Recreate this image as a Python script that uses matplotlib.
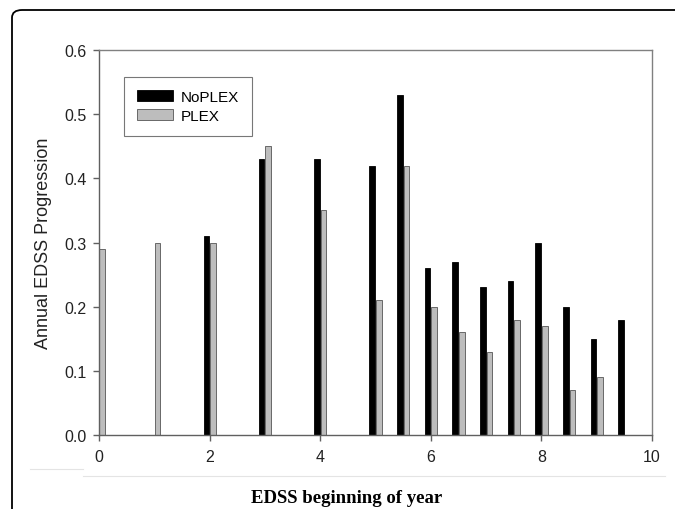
import matplotlib
matplotlib.use("Agg")
import matplotlib.pyplot as plt
from matplotlib.patches import FancyBboxPatch
from matplotlib.lines import Line2D

# data
edss = [0, 1, 2, 3, 4, 5, 5.5, 6, 6.5, 7, 7.5, 8, 8.5, 9, 9.5]
noplex = [None, None, 0.31, 0.43, 0.43, 0.42, 0.53, 0.26, 0.27, 0.23, 0.24, 0.30, 0.20, 0.15, 0.18]
plex = [0.29, 0.30, 0.30, 0.45, 0.35, 0.21, 0.42, 0.20, 0.16, 0.13, 0.18, 0.17, 0.07, 0.09, None]

fig = plt.figure(figsize=(6.75, 5.1), dpi=100)
ax = fig.add_axes([0.1467, 0.145, 0.8193, 0.755])

w = 0.1
off = 0.06
xs_n = [x - off for x, v in zip(edss, noplex) if v is not None]
vs_n = [v for v in noplex if v is not None]
xs_p = [x + off if x > 0 else x + 0.05 for x, v in zip(edss, plex) if v is not None]
vs_p = [v for v in plex if v is not None]

ax.bar(xs_n, vs_n, width=w, color="black", edgecolor="black", linewidth=0.6, label="NoPLEX")
ax.bar(xs_p, vs_p, width=w, color="#bdbdbd", edgecolor="#555555", linewidth=0.6, label="PLEX")

ax.set_xlim(0, 10)
ax.set_ylim(0, 0.6)
ax.set_xticks([0, 2, 4, 6, 8, 10])
ax.set_yticks([0.0, 0.1, 0.2, 0.3, 0.4, 0.5, 0.6])
ax.set_yticklabels(["0.0", "0.1", "0.2", "0.3", "0.4", "0.5", "0.6"])

for s in ax.spines.values():
    s.set_color("#808080")
    s.set_linewidth(1.0)
ax.spines["bottom"].set_color("#606060")
ax.spines["left"].set_color("#606060")
ax.tick_params(direction="out", length=4, width=1, color="#606060",
               labelsize=11.5, labelcolor="#222222")
ax.tick_params(axis="x", pad=6)
ax.tick_params(axis="y", pad=5)
for lab in ax.get_xticklabels() + ax.get_yticklabels():
    lab.set_family("Liberation Sans")

ax.set_ylabel("Annual EDSS Progression", family="Liberation Sans", fontsize=13,
              color="#222222")
ax.yaxis.set_label_coords(-0.085, 0.5)

leg = ax.legend(loc="upper left", bbox_to_anchor=(0.045, 0.93),
                prop={"family": "Liberation Sans", "size": 11}, frameon=True,
                fancybox=False, edgecolor="#555555", handlelength=2.35,
                handleheight=0.72, handletextpad=0.5, borderpad=0.85,
                labelspacing=0.3, borderaxespad=0)
leg.get_frame().set_linewidth(0.8)

fig.text(0.514, 0.0235, "EDSS beginning of year", family="Liberation Serif",
         fontweight="bold", fontsize=13.5, ha="center", va="center")

# faint lines under the axes
fig.add_artist(Line2D([30 / 675, 83 / 675], [1 - 470 / 510] * 2, color="#e4e4e4", lw=0.8))
fig.add_artist(Line2D([83 / 675, 665 / 675], [1 - 477 / 510] * 2, color="#e4e4e4", lw=0.8))

# outer rounded frame
frame = FancyBboxPatch((12 / 675, -0.2), 1.2, 1.2 - 11 / 510,
                       boxstyle="round,pad=0,rounding_size=0.015",
                       transform=fig.transFigure, fill=False,
                       edgecolor="black", linewidth=1.3, clip_on=False)
fig.add_artist(frame)

fig.savefig("out.png", dpi=100)
